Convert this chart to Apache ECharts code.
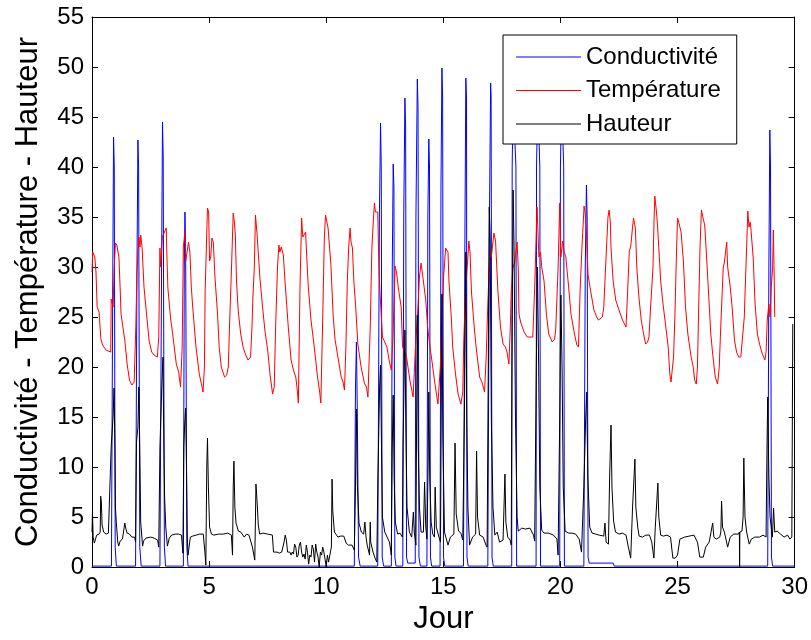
<!DOCTYPE html>
<html>
<head>
<meta charset="utf-8">
<script src="https://cdn.jsdelivr.net/npm/echarts@6/dist/echarts.min.js"></script>
<style>
html,body{margin:0;padding:0;background:#fff;}
#chart{width:811px;height:640px;}
</style>
</head>
<body>
<div id="chart"></div>
<script>
// Tick values
const xTicks = [0, 5, 10, 15, 20, 25, 30];
const yTicks = [0, 5, 10, 15, 20, 25, 30, 35, 40, 45, 50, 55];
const seriesNames = ['Conductivité', 'Température', 'Hauteur'];

// Conductivité: [jour, valeur]
const conductivite = [
[0,0.1],[0.83,0.1],[0.88,26],[0.92,43],[0.95,40],[0.99,2],[1.04,0.1],
[1.86,0.1],[1.92,30],[1.96,42.7],[1.99,40],[2.04,2],[2.1,0.1],
[2.9,0.1],[2.97,30],[3.01,44.5],[3.04,41],[3.09,2],[3.14,0.1],
[3.9,0.1],[3.94,30],[3.97,35.5],[4.0,31],[4.05,2],[4.1,0.1],
[11.2,0.1],[11.25,18],[11.29,22.5],[11.33,15],[11.38,1],[11.45,0.1],
[12.2,0.1],[12.27,35],[12.32,44.4],[12.35,40],[12.39,1],[12.45,0.1],
[12.78,0.1],[12.82,30],[12.86,40.3],[12.89,38],[12.93,1],[12.98,0.1],
[13.27,0.1],[13.31,35],[13.36,46.9],[13.39,44],[13.43,1],[13.48,0.4],[13.8,0.4],
[13.83,35],[13.89,48.8],[13.92,46],[13.96,1],[14.02,0.1],
[14.3,0.1],[14.34,35],[14.38,42.8],[14.41,40],[14.45,1],[14.5,0.1],
[14.86,0.1],[14.9,38],[14.94,49.9],[14.97,47],[15.01,1],[15.06,0.1],
[15.86,0.1],[15.92,32],[15.96,48.9],[15.99,47],[16.01,1],[16.06,0.1],
[16.9,0.1],[16.97,35],[17.02,48.4],[17.04,47],[17.08,1],[17.13,0.1],
[17.92,0.1],[17.94,40],[17.98,47],[18.06,47],[18.1,40],[18.13,0.1],
[18.96,0.1],[18.98,40],[19.03,47],[19.09,47],[19.12,40],[19.15,0.1],
[19.97,0.1],[20.0,40],[20.05,47],[20.1,47],[20.14,40],[20.17,0.1],
[21.0,0.1],[21.06,30],[21.11,38.2],[21.14,35],[21.18,1],[21.23,0.4],[22.25,0.4],[22.3,0.1],
[28.85,0.1],[28.9,30],[28.94,43.7],[28.97,40],[29.01,1],[29.06,0.1],[30,0.1]
];

// Température: [jour, valeur]
const temperature = [
[0.0,29.5],[0.03,31.5],[0.12,31.0],[0.17,29.5],[0.22,26],[0.3,25.5],[0.38,22.8],[0.45,22.2],[0.6,21.7],[0.8,21.5],
[0.82,26.8],[0.9,26],[0.95,30],[1.0,32.4],[1.06,32.2],[1.15,31],[1.2,28],[1.24,25.3],[1.32,24],[1.4,22.7],[1.5,20.3],[1.6,18.7],[1.7,18.2],[1.8,18.5],
[1.87,24],[1.92,29.6],[2.0,33],[2.05,32],[2.08,33.2],[2.14,31.9],[2.22,28],[2.3,26],[2.44,22.6],[2.55,21.5],[2.65,21.2],[2.79,21.0],
[2.85,23],[2.9,31.9],[2.93,30],[3.0,33],[3.17,33.9],[3.2,31],[3.24,27.9],[3.35,25],[3.46,23],[3.6,20.3],[3.7,19.5],[3.78,18],
[3.85,22],[3.9,32],[3.97,33.6],[4.0,30.6],[4.06,31.5],[4.12,32.5],[4.18,31.5],[4.24,28],[4.3,26],[4.44,22],[4.58,19.3],[4.7,18],[4.74,17.5],
[4.8,20],[4.83,27.6],[4.93,35.9],[4.98,35.5],[5.02,30.6],[5.07,31],[5.12,32.9],[5.18,32.5],[5.25,29],[5.36,25.3],[5.43,22],[5.52,20],[5.66,19],[5.75,19.2],[5.82,20],
[5.87,24],[5.96,30.2],[6.03,35.4],[6.08,34.5],[6.12,33.2],[6.17,28.6],[6.24,25.7],[6.35,23.3],[6.45,22],[6.55,21.3],[6.66,20.7],[6.77,21],
[6.83,24],[6.87,27],[6.93,30],[6.98,35.2],[7.05,33.2],[7.17,28.9],[7.27,26.3],[7.38,23.7],[7.5,21.7],[7.6,19.3],[7.71,17.3],[7.78,18],
[7.84,24],[7.92,30],[7.98,32.2],[8.02,31.5],[8.08,32],[8.17,31.2],[8.24,28.6],[8.31,26.3],[8.38,24],[8.5,20.7],[8.6,19.7],[8.7,19],[8.75,18],[8.81,16.4],
[8.88,27.9],[8.95,34.9],[9.0,33],[9.06,32.9],[9.12,33.5],[9.17,31],[9.23,28.2],[9.35,24.7],[9.49,22],[9.63,19],[9.72,17.5],[9.77,16.4],
[9.83,22.7],[9.92,32.9],[9.97,35.2],[10.08,33.9],[10.2,30.2],[10.3,25],[10.38,22.7],[10.5,21],[10.64,19],[10.72,18.5],[10.78,17.7],
[10.84,22],[10.9,28.6],[10.96,32],[11.02,33.9],[11.06,32.5],[11.12,31.9],[11.18,28.6],[11.26,26],[11.35,22.3],[11.49,20],[11.63,18.4],[11.72,18],[11.78,17],
[11.88,24],[11.95,31.9],[12.02,35],[12.06,36.4],[12.1,35.5],[12.2,35.5],[12.25,30],[12.3,27.3],[12.4,23],[12.5,22.5],[12.59,22],[12.7,20.5],[12.78,19.7],
[12.85,23],[12.94,30.1],[13.0,29.5],[13.08,27.9],[13.2,26],[13.26,22],[13.35,21.5],[13.43,21],[13.57,18.7],[13.71,17],
[13.81,22],[13.93,26.5],[13.98,29],[14.05,30.4],[14.1,29.5],[14.15,29.5],[14.25,26.7],[14.33,24],[14.43,22],[14.52,20.5],[14.62,18.7],[14.77,16.3],
[14.87,20],[15.0,28.6],[15.1,31.9],[15.2,31.5],[15.24,28.6],[15.34,25],[15.4,22],[15.52,19.3],[15.63,17.3],[15.75,16.3],[15.83,17.5],
[15.87,22.3],[15.95,28],[16.05,31],[16.09,32.6],[16.14,31.5],[16.2,27.6],[16.3,24.5],[16.4,22],[16.55,19],[16.65,18.5],[16.76,17.5],
[16.83,21],[16.9,26.3],[16.97,30.5],[17.05,31],[17.16,33.4],[17.23,32.6],[17.33,27.6],[17.44,24],[17.55,22.3],[17.65,22],[17.72,21.5],[17.8,20.3],
[17.86,24],[17.9,27.6],[17.97,29.9],[18.05,30.5],[18.15,32.5],[18.2,29.8],[18.23,25.3],[18.3,24.5],[18.37,24],[18.45,23.5],[18.58,23],[18.7,23],[18.82,23],
[18.9,27.9],[18.97,33.5],[19.0,36],[19.05,33],[19.08,31],[19.15,31.5],[19.2,30],[19.3,28.6],[19.4,25.3],[19.5,23.3],[19.65,22.5],[19.75,22.8],[19.8,23.8],
[19.9,29.9],[19.97,36.4],[20.02,31],[20.1,32.6],[20.16,31.5],[20.23,31],[20.35,28],[20.45,25.3],[20.6,23.3],[20.7,22.2],[20.77,22],
[20.84,27.6],[20.92,32],[21.01,36.1],[21.05,35.5],[21.1,34],[21.18,29.2],[21.29,27.6],[21.43,25.7],[21.55,25],[21.62,24.7],[21.7,24.8],[21.79,25],[21.85,26],[21.9,26],
[21.96,31.6],[22.03,35],[22.08,35.7],[22.13,34.5],[22.16,31.9],[22.25,28.6],[22.36,26.7],[22.5,25.7],[22.65,24.7],[22.8,24],
[22.87,27.6],[22.94,31.6],[23.0,32],[23.08,34],[23.12,34.9],[23.2,33.9],[23.26,30],[23.35,27],[23.45,24.7],[23.55,23.3],[23.64,22.3],[23.72,22.5],[23.78,23],
[23.85,26],[23.95,29.9],[24.0,35],[24.03,37.1],[24.1,35.5],[24.15,34],[24.21,33.9],[24.28,28.6],[24.38,26.3],[24.5,24],[24.6,22],[24.67,19.3],[24.72,18.5],[24.77,18.5],
[24.83,21],[24.89,25.3],[24.95,31],[25.0,34.9],[25.05,34.5],[25.15,33.5],[25.25,30.6],[25.34,26],[25.44,23.3],[25.58,21],[25.67,20],[25.73,18.7],[25.8,18.3],
[25.85,20],[25.91,26.7],[25.96,32],[26.02,35.7],[26.08,35],[26.16,34.2],[26.25,30.6],[26.35,26.3],[26.42,23.3],[26.5,21.3],[26.61,19],[26.71,18.3],
[26.78,20],[26.85,24.3],[26.95,29.9],[27.0,30.5],[27.07,31.9],[27.1,32.5],[27.14,30],[27.25,28],[27.33,26],[27.43,22.7],[27.52,21.5],[27.61,21],[27.7,21],[27.78,21],
[27.85,25],[27.89,27.9],[27.95,32],[28.0,35.6],[28.05,34],[28.1,34.5],[28.13,33.9],[28.23,30.9],[28.31,26.3],[28.41,23.3],[28.5,22.3],[28.62,21.3],[28.73,20.7],
[28.78,21.5],[28.83,24.7],[28.9,26.3],[28.95,25],[29.0,28],[29.06,29.9],[29.09,33.7],[29.12,30],[29.15,25]
];

// Hauteur: [jour, valeur]
const hauteur = [
[0,3.5],[0.02,5.5],[0.05,3],[0.1,2.4],[0.15,2.4],[0.2,3.2],[0.3,3.3],[0.35,3.5],[0.37,7.1],[0.4,6.5],[0.43,4.2],[0.5,3.5],[0.6,3.3],[0.7,3.4],[0.78,3.3],
[0.82,12.1],[0.9,15],[0.94,17.9],[0.98,12],[1.0,6],[1.04,4.4],[1.1,2.5],[1.14,2.1],[1.2,2.6],[1.3,2.8],[1.38,2.8],[1.4,4.4],[1.45,3.8],[1.5,3.4],[1.6,3.3],[1.7,3.0],[1.82,3.0],[1.86,2.5],
[1.9,12.5],[1.96,14],[2.0,18],[2.04,12],[2.08,4.5],[2.16,2.1],[2.2,2.6],[2.3,2.9],[2.5,3.0],[2.65,2.9],[2.8,2.7],[2.85,2.0],
[2.9,12],[2.98,18],[3.03,21],[3.07,12],[3.1,7],[3.15,4],[3.22,2.1],[3.3,2.9],[3.4,3.2],[3.55,3.3],[3.7,3.3],[3.82,3.2],[3.88,1.4],
[3.92,12],[3.96,14.5],[4.0,15.9],[4.04,9],[4.07,3],[4.1,1.2],[4.2,3.0],[4.3,3.1],[4.45,3.2],[4.6,3.3],[4.75,3.3],[4.82,1.5],[4.86,0.2],
[4.9,10],[4.93,12.9],[4.97,8],[5.02,4],[5.1,3.3],[5.2,3.2],[5.4,3.3],[5.6,3.3],[5.8,3.4],[5.95,3.2],[6.0,1.2],
[6.03,8],[6.06,10.6],[6.1,6],[6.15,4.4],[6.25,3.6],[6.35,3.5],[6.5,3.0],[6.6,3.3],[6.7,3.2],[6.85,2],[6.95,0.7],
[6.98,5],[7.0,8.3],[7.05,6.5],[7.1,4.2],[7.16,3.3],[7.3,3.4],[7.5,3.3],[7.7,3.2],[7.75,1.5],[7.9,1.5],[8.0,1.4],[8.1,1.5],[8.2,2.5],[8.25,3.2],
[8.3,2.7],[8.35,1.5],[8.45,1.5],[8.5,1.2],[8.55,1.5],[8.6,1.3],[8.65,2.3],[8.7,2.0],[8.75,1.0],[8.8,1.2],[8.85,2.2],[8.9,2.5],[8.95,1.5],
[9.0,1.0],[9.05,1.3],[9.1,0.8],[9.15,2.2],[9.2,1.5],[9.25,0.3],[9.3,1.2],[9.35,1.0],[9.4,2.2],[9.45,1.8],[9.5,0.5],[9.55,2.3],[9.6,1.5],
[9.65,1.0],[9.7,0],[9.75,1.5],[9.8,1.2],[9.85,2.0],[9.9,1.5],[9.95,0.8],[10.0,0],[10.05,1.2],[10.1,0.5],[10.15,0.6],[10.22,2],
[10.25,8.8],[10.28,5.6],[10.35,3.5],[10.5,3.0],[10.6,3.1],[10.75,3.1],[10.85,2.4],[10.95,2.2],[11.1,2.2],[11.2,1.7],
[11.25,8],[11.29,15.8],[11.33,8.3],[11.4,4.4],[11.5,3.5],[11.6,3.3],[11.65,4.5],[11.7,3.0],[11.75,2.2],[11.85,1.2],[11.88,4.5],[11.9,2.5],[12.0,1.5],[12.1,0.8],[12.16,0.5],
[12.2,8],[12.28,18],[12.32,20.2],[12.36,12],[12.4,5],[12.5,3.5],[12.6,3],[12.7,2.5],[12.78,1.2],
[12.82,12],[12.86,17.2],[12.9,9],[12.95,4.5],[13.05,3.3],[13.15,3.4],[13.25,3],
[13.28,12],[13.36,23.7],[13.4,14],[13.45,6],[13.55,3.5],[13.65,3.0],[13.72,5.5],[13.76,3.5],[13.83,2.2],
[13.86,15],[13.89,25.2],[13.93,12],[13.98,6],[14.05,3.5],[14.15,3.5],[14.2,8.5],[14.25,4],[14.3,2.8],
[14.35,10],[14.38,17.5],[14.42,9],[14.48,4.5],[14.55,3.3],[14.62,3.0],[14.65,8.0],[14.7,4],[14.8,3.1],[14.88,2.5],
[14.91,15],[14.94,27.3],[14.98,13],[15.05,3.5],[15.1,3.5],[15.2,2.2],[15.3,3.0],[15.45,3.3],[15.5,12.4],[15.55,5.3],[15.65,3.6],[15.75,3.4],[15.83,2.7],
[15.9,15],[15.96,31.5],[16.0,15],[16.05,6],[16.12,2.2],[16.25,3],[16.38,3.3],[16.42,11.6],[16.46,5],[16.55,3.2],[16.7,3.0],[16.82,2.2],[16.87,2],
[16.92,20],[16.96,36],[17.0,33],[17.05,14.8],[17.12,6],[17.2,3.2],[17.3,3.5],[17.4,2.5],[17.55,2.7],[17.63,9.3],[17.67,4.5],[17.75,3],[17.85,2.7],[17.9,2.2],
[17.93,20],[17.98,37.7],[18.02,32],[18.08,15],[18.15,5],[18.2,3.6],[18.35,3.9],[18.5,3.8],[18.7,3.9],[18.85,3.2],[18.9,2.6],
[18.97,20],[19.02,30],[19.07,20],[19.12,8],[19.2,3.7],[19.3,3.4],[19.5,3.4],[19.7,3.2],[19.85,2.8],[19.9,1.2],
[19.97,15],[20.02,27.2],[20.07,20],[20.12,8],[20.2,3.6],[20.35,3.4],[20.5,3.4],[20.65,3.3],[20.8,2.8],[20.9,1.5],
[21.0,8],[21.08,15],[21.12,17.5],[21.17,9],[21.25,4],[21.35,3.4],[21.5,3.3],[21.65,3.2],[21.85,3.1],[21.9,4.4],[21.95,2.5],[22.05,2.3],
[22.1,9],[22.16,14.2],[22.2,8],[22.27,4.6],[22.35,3.5],[22.5,3.3],[22.65,3.4],[22.8,3.2],[22.9,2],[23.0,0.9],
[23.08,6],[23.18,10.8],[23.22,6],[23.3,4],[23.36,3.1],[23.5,3.0],[23.65,3.2],[23.8,3.2],[23.9,2.5],[23.99,0.9],
[24.05,4],[24.16,8.4],[24.2,5],[24.28,3.2],[24.4,3.1],[24.55,3.2],[24.7,3.0],[24.8,0.9],[24.9,0.9],[25.0,1.2],[25.1,2.8],[25.3,3.0],[25.5,3.1],[25.7,3.2],[25.85,2.5],
[25.95,1.0],[26.1,1.0],[26.2,2.0],[26.35,2.5],[26.5,4.4],[26.55,3.0],[26.65,2.8],[26.8,3.0],[26.85,3.5],[26.88,6.6],[26.92,4],[27.0,3.5],[27.14,2.0],
[27.25,3.0],[27.4,3.3],[27.6,3.3],[27.64,3.5],[27.65,0],[27.66,3.5],[27.75,3.6],[27.8,5],[27.83,10.9],[27.88,5],[27.95,3.5],[28.06,2.3],[28.15,2.8],
[28.3,3.0],[28.5,3.0],[28.65,3.2],[28.78,3.0],[28.82,12],[28.85,17],[28.9,9],[28.95,5],[29.05,3.0],[29.1,5.9],[29.15,3.5],[29.25,3.6],[29.4,3.3],
[29.55,3.0],[29.7,3.2],[29.8,2.8],[29.88,3],[29.92,24.3],[29.95,24.3]
];

const FONT = 'Liberation Sans, Arial, Helvetica, sans-serif';
const chart = echarts.init(document.getElementById('chart'), null, {renderer: 'canvas'});

function axisBase() {
  return {
    type: 'value',
    axisLine: {show: true, onZero: false, lineStyle: {color: '#000', width: 1}},
    axisTick: {show: true, inside: true, length: 6, lineStyle: {color: '#000', width: 1}},
    splitLine: {show: false},
    axisLabel: {color: '#000', fontSize: 24, fontFamily: FONT, margin: 8}
  };
}

const option = {
  animation: false,
  backgroundColor: '#fff',
  textStyle: {fontFamily: FONT},
  grid: {left: 92, right: 16, top: 17, bottom: 68, containLabel: false},
  legend: {
    data: seriesNames,
    orient: 'vertical',
    left: 503,
    top: 35,
    padding: [10, 16, 8, 13],
    itemGap: 9.5,
    icon: 'rect',
    itemWidth: 65,
    itemHeight: 1,
    itemTextGap: 8,
    backgroundColor: '#fff',
    borderColor: '#000',
    borderWidth: 1,
    borderRadius: 0,
    textStyle: {fontSize: 24, color: '#000', fontFamily: FONT, lineHeight: 24}
  },
  xAxis: [
    Object.assign(axisBase(), {
      min: xTicks[0], max: xTicks[xTicks.length - 1], interval: 5, position: 'bottom',
      name: 'Jour', nameLocation: 'middle', nameGap: 36,
      nameTextStyle: {fontSize: 31, color: '#000', fontFamily: FONT}
    }),
    Object.assign(axisBase(), {
      min: xTicks[0], max: xTicks[xTicks.length - 1], interval: 5, position: 'top',
      axisLabel: {show: false}
    })
  ],
  yAxis: [
    Object.assign(axisBase(), {
      min: yTicks[0], max: yTicks[yTicks.length - 1], interval: 5, position: 'left',
      name: 'Conductivité - Température - Hauteur', nameLocation: 'middle', nameGap: 48,
      nameTextStyle: {fontSize: 31, color: '#000', fontFamily: FONT}
    }),
    Object.assign(axisBase(), {
      min: yTicks[0], max: yTicks[yTicks.length - 1], interval: 5, position: 'right',
      axisLabel: {show: false}
    })
  ],
  series: [
    {name: seriesNames[0], type: 'line', data: conductivite, symbol: 'none', lineStyle: {color: '#0000ff', width: 1}, itemStyle: {color: '#0000ff'}, z: 2},
    {name: seriesNames[1], type: 'line', data: temperature, symbol: 'none', lineStyle: {color: '#ff0000', width: 1}, itemStyle: {color: '#ff0000'}, z: 2},
    {name: seriesNames[2], type: 'line', data: hauteur, symbol: 'none', lineStyle: {color: '#000000', width: 1}, itemStyle: {color: '#000000'}, z: 2}
  ]
};
chart.setOption(option);
</script>
</body>
</html>
